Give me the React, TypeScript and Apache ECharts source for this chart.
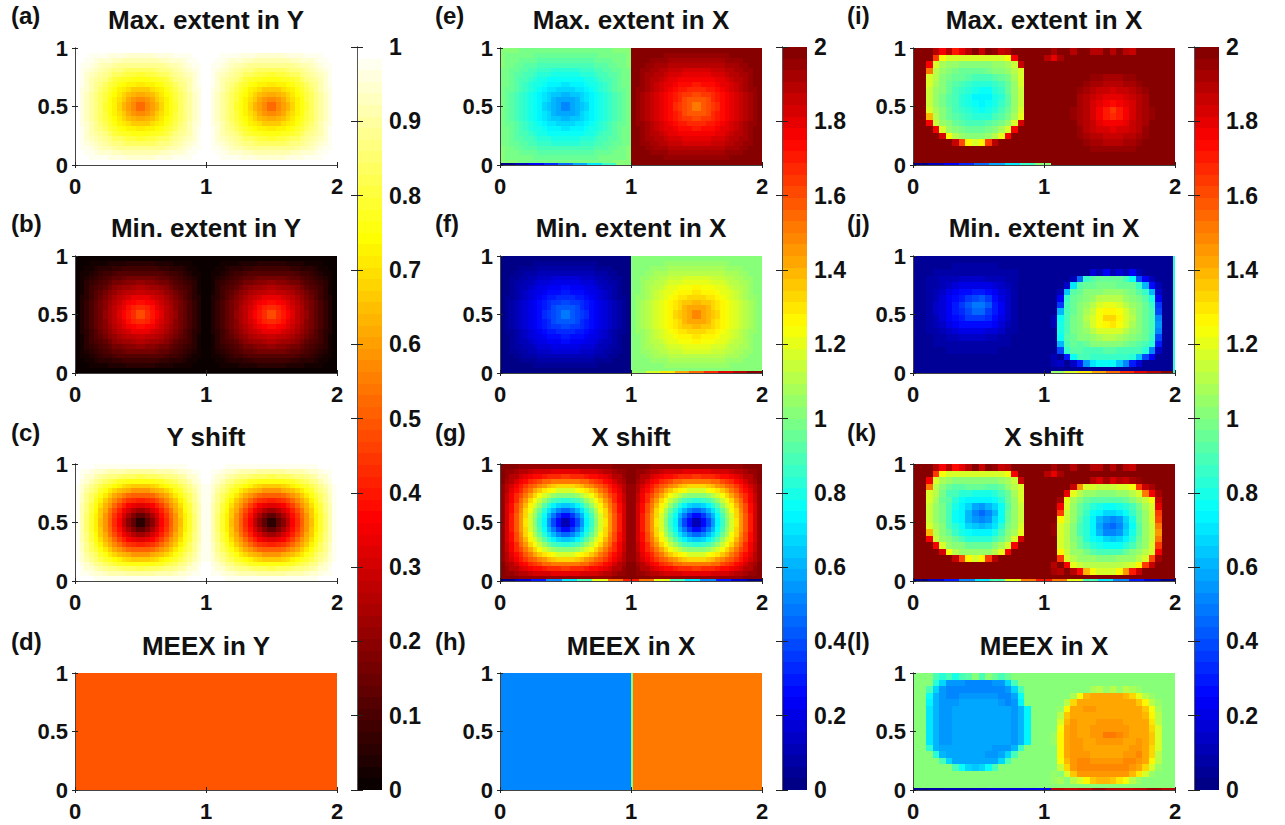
import React, { useEffect, useRef } from "react";
import * as echarts from "echarts";

// All cell values are in hundredths of the colour-bar unit. Rows run top to bottom.
const xTicksLabels = ["0", "1", "2"];
const yTicksLabels = ["0", "0.5", "1"];

// Quadrants of one gyre: edge row first, outer column first. Each is mirrored to make a full 1x1 tile.
const aQuad = [
  [100,100,100,100,99,99,99,99,99,99,99,99,99,99],
  [100,99,99,98,98,97,97,96,96,96,96,95,95,95],
  [100,99,98,97,96,95,95,94,93,93,92,92,92,91],
  [100,98,97,96,95,93,92,91,90,89,89,88,88,88],
  [99,98,96,95,93,91,90,89,87,86,85,84,84,84],
  [99,97,95,93,92,90,88,86,84,83,82,81,80,79],
  [99,97,95,92,90,88,86,83,81,79,78,77,76,75],
  [99,97,94,92,89,86,84,81,79,76,74,73,72,71],
  [99,96,94,91,88,85,82,79,76,73,71,69,67,66],
  [99,96,93,90,87,84,81,77,74,71,68,65,63,62],
  [99,96,93,90,86,83,80,76,73,69,66,62,59,57],
  [99,96,93,90,86,83,79,76,72,68,64,60,57,53],
];
const bQuad = [
  [0,0,0,0,1,1,1,1,1,1,1,1,1,1],
  [0,1,1,2,2,3,3,4,4,4,4,5,5,5],
  [0,1,2,3,4,5,5,6,7,7,8,8,8,9],
  [0,2,3,4,5,7,8,9,10,11,11,12,12,12],
  [1,2,4,5,7,9,10,11,13,14,15,16,16,16],
  [1,3,5,7,8,10,12,14,16,17,18,19,20,21],
  [1,3,5,8,10,12,14,17,19,21,22,23,24,25],
  [1,3,6,8,11,14,16,19,21,24,26,27,28,29],
  [1,4,6,9,12,15,18,21,24,27,29,31,33,34],
  [1,4,7,10,13,16,19,23,26,29,32,35,37,38],
  [1,4,7,10,14,17,20,24,27,31,34,38,41,43],
  [1,4,7,10,14,17,21,24,28,32,36,40,43,47],
];
const cQuad = [
  [100,99,99,99,98,98,98,98,97,97,97,97,97,97],
  [99,98,97,96,95,94,93,92,92,91,91,90,90,90],
  [99,97,95,94,92,90,89,87,86,85,84,83,83,82],
  [99,96,94,91,89,86,84,82,80,78,77,76,75,75],
  [98,95,92,89,85,82,79,77,74,72,70,68,67,67],
  [98,94,90,86,83,79,75,71,68,65,63,61,59,58],
  [98,93,89,84,80,75,71,66,62,58,55,53,51,50],
  [98,93,88,83,77,72,67,62,57,52,48,45,43,41],
  [97,92,87,81,75,69,63,58,52,46,41,37,34,32],
  [97,92,86,80,74,67,61,54,48,41,35,30,26,23],
  [97,91,85,79,72,66,59,52,45,38,31,24,18,14],
  [97,91,85,79,72,65,58,51,43,36,28,20,13,6],
];
const eRightQuad = [
  [200,200,200,200,199,199,199,199,199,199,199,199,199,199],
  [200,199,199,198,198,197,197,196,196,196,196,195,195,195],
  [200,199,198,197,196,195,195,194,193,193,192,192,192,191],
  [200,198,197,196,195,193,192,191,190,189,189,188,188,188],
  [199,198,196,195,193,191,190,189,187,186,185,184,184,184],
  [199,197,195,193,192,190,188,186,184,183,182,181,180,179],
  [199,197,195,192,190,188,186,183,181,179,178,177,176,175],
  [199,197,194,192,189,186,184,181,179,176,174,173,172,171],
  [199,196,194,191,188,185,182,179,176,173,171,169,167,166],
  [199,196,193,190,187,184,181,177,174,171,168,165,163,162],
  [199,196,193,190,186,183,180,176,173,169,166,162,159,157],
  [199,196,193,190,186,183,179,176,172,168,164,160,157,153],
];
const fRightQuad = [
  [100,100,100,100,101,101,101,101,101,101,101,101,101,101],
  [100,101,101,102,102,103,103,104,104,104,104,105,105,105],
  [100,101,102,103,104,105,105,106,107,107,108,108,108,109],
  [100,102,103,104,105,107,108,109,110,111,111,112,112,112],
  [101,102,104,105,107,109,110,111,113,114,115,116,116,116],
  [101,103,105,107,108,110,112,114,116,117,118,119,120,121],
  [101,103,105,108,110,112,114,117,119,121,122,123,124,125],
  [101,103,106,108,111,114,116,119,121,124,126,127,128,129],
  [101,104,106,109,112,115,118,121,124,127,129,131,133,134],
  [101,104,107,110,113,116,119,123,126,129,132,135,137,138],
  [101,104,107,110,114,117,120,124,127,131,134,138,141,143],
  [101,104,107,110,114,117,121,124,128,132,136,140,143,147],
];
const gQuad = [
  [200,198,198,198,196,196,196,196,194,194,194,194,194,194],
  [198,196,194,192,190,188,186,184,184,182,182,180,180,180],
  [198,194,190,188,184,180,178,174,172,170,168,166,166,164],
  [198,192,188,182,178,172,168,164,160,156,154,152,150,150],
  [196,190,184,178,170,164,158,154,148,144,140,136,134,134],
  [196,188,180,172,166,158,150,142,136,130,126,122,118,116],
  [196,186,178,168,160,150,142,132,124,116,110,106,102,100],
  [196,186,176,166,154,144,134,124,114,104,96,90,86,82],
  [194,184,174,162,150,138,126,116,104,92,82,74,68,64],
  [194,184,172,160,148,134,122,108,96,82,70,60,52,46],
  [194,182,170,158,144,132,118,104,90,76,62,48,36,28],
  [194,182,170,158,144,130,116,102,86,72,56,40,26,12],
];
const dValues = [[49, 49]];
const hValues = [[50, 150]];

const R200 = [200,200,200,200,200,200,200,200,200,200,200,200,200,200,200,200,200,200,200,200];
const R100 = [100,100,100,100,100,100,100,100,100,100,100,100,100,100,100,100,100,100,100,100];
const R5 = [5,5,5,5,5,5,5,5,5,5,5,5,5,5,5,5,5,5,5,5];

const iLeft = [
  [200,200,200,190,175,190,170,180,190,200,185,200,195,185,190,200,200,200,200,200],
  [200,200,200,165,122,116,116,118,116,116,116,118,116,118,122,175,200,200,200,200],
  [200,200,175,116,108,104,104,100,100,100,100,100,104,104,108,115,185,200,200,200],
  [200,200,150,112,104,100,98,96,96,96,96,98,100,100,104,112,116,200,200,200],
  [200,200,118,110,102,98,96,94,92,90,90,90,92,94,98,108,116,200,200,200],
  [200,200,116,108,100,96,92,90,86,84,84,84,86,90,96,106,116,200,200,200],
  [200,200,115,106,100,94,90,86,82,79,77,78,82,86,94,104,115,200,200,200],
  [200,200,115,106,98,92,88,84,79,74,72,74,79,84,92,104,115,200,200,200],
  [200,200,115,106,98,92,88,84,80,76,74,76,80,86,92,104,114,200,200,200],
  [200,200,116,108,100,94,90,86,82,80,78,80,82,88,94,106,116,200,200,200],
  [200,200,140,110,102,96,92,88,86,84,84,84,88,92,98,108,120,200,200,200],
  [200,200,178,114,104,100,96,92,90,90,90,92,94,98,104,116,182,200,200,200],
  [200,200,200,175,116,106,102,98,96,96,96,98,102,108,118,178,200,200,200,200],
  [200,200,200,200,182,122,112,106,102,100,102,106,112,120,178,200,200,200,200,200],
  [200,200,200,200,200,200,185,160,125,118,128,165,188,200,200,200,200,200,200,200],
  R200, R200, R200,
];
const iRight = [
  [200,192,200,200,188,200,200,190,188,200,188,200,190,185,200,200,200,200,200,200],
  [188,180,192,200,200,200,200,200,200,200,200,200,200,200,200,200,200,200,200,200],
  R200,
  [200,200,200,200,200,200,200,198,197,197,197,197,197,198,200,200,200,200,200,200],
  [200,200,200,200,200,200,198,196,194,193,193,193,194,196,198,200,200,200,200,200],
  [200,200,200,200,200,198,194,192,191,189,189,189,191,192,194,198,200,200,200,200],
  [200,200,200,200,198,195,192,189,187,185,184,185,187,189,192,195,198,200,200,200],
  [200,200,200,200,197,193,190,186,183,180,179,180,183,186,190,193,197,200,200,200],
  [200,200,200,199,197,193,189,184,180,175,172,175,180,184,189,193,197,199,200,200],
  [200,200,200,199,196,192,188,183,178,170,165,170,178,183,188,192,196,199,200,200],
  [200,200,200,199,196,192,188,183,178,171,167,171,178,183,188,192,196,199,200,200],
  [200,200,200,199,197,193,189,185,180,176,175,176,180,185,189,193,197,199,200,200],
  [200,200,200,200,197,194,190,187,184,182,181,182,184,187,190,194,197,200,200,200],
  [200,200,200,200,198,195,192,190,188,187,186,187,188,190,192,195,198,200,200,200],
  [200,200,200,200,200,197,195,193,191,190,190,190,191,193,195,197,200,200,200,200],
  [200,200,200,200,200,199,197,196,195,194,194,194,195,196,197,199,200,200,200,200],
  [200,200,200,200,200,200,200,199,198,198,198,198,198,199,200,200,200,200,200,200],
  R200,
];
const jLeft = [
  R5,
  [5,5,5,6,6,6,7,7,7,7,7,7,7,6,6,6,5,5,5,5],
  [5,5,6,7,8,8,9,9,9,9,9,9,9,8,8,7,6,5,5,5],
  [5,6,7,8,10,11,12,13,13,13,13,12,11,10,9,7,6,5,5,5],
  [5,6,7,9,12,15,17,19,20,20,20,19,17,14,10,8,6,5,5,5],
  [5,6,8,11,15,19,23,26,28,29,29,27,23,18,13,9,6,5,5,5],
  [5,6,9,12,17,22,27,31,36,40,41,36,28,21,14,9,6,5,5,5],
  [5,6,9,13,18,24,29,35,42,47,48,42,31,23,15,9,6,5,5,5],
  [5,6,9,13,18,23,29,34,40,44,46,36,30,22,15,9,6,5,5,5],
  [5,6,9,12,17,22,27,31,35,37,37,33,27,20,14,9,6,5,5,5],
  [5,6,8,10,15,19,23,26,28,28,28,26,22,17,12,8,6,5,5,5],
  [5,6,7,9,12,15,17,19,20,20,20,18,16,13,9,7,6,5,5,5],
  [5,5,6,8,9,11,12,13,13,13,13,12,11,9,8,6,5,5,5,5],
  [5,5,6,7,7,8,9,9,9,9,9,9,8,7,7,6,5,5,5,5],
  [5,5,5,6,6,7,7,7,7,7,7,7,7,6,6,5,5,5,5,5],
  R5, R5, R5,
];
const jRight = [
  R5, R5,
  [5,5,5,5,5,5,5,18,10,22,10,18,12,22,10,5,5,5,5,5],
  [5,5,5,5,10,45,85,92,94,94,94,94,90,78,40,22,12,5,5,5],
  [5,5,5,14,70,92,96,96,98,98,98,96,96,94,85,60,28,10,5,5],
  [5,5,10,65,92,96,100,102,102,104,104,104,102,98,92,85,60,14,5,5],
  [5,5,22,85,94,98,102,106,110,112,112,110,106,102,98,92,80,22,5,5],
  [5,5,35,88,96,100,106,112,116,120,120,118,112,106,100,94,85,35,5,5],
  [5,5,60,90,96,102,108,114,122,128,128,124,116,108,102,96,88,40,5,5],
  [5,10,75,90,98,102,110,116,124,132,134,128,118,110,102,96,88,50,5,5],
  [5,10,80,90,98,102,108,116,122,128,130,124,116,108,102,96,88,55,5,5],
  [5,5,80,90,98,100,106,112,116,118,118,116,112,106,100,96,88,50,5,5],
  [5,5,78,92,96,100,102,106,108,110,110,108,106,102,98,94,86,40,5,5],
  [5,5,60,90,96,92,96,100,102,102,102,100,98,94,92,90,84,30,5,5],
  [5,5,40,85,92,92,90,90,90,92,92,90,90,90,90,82,50,14,5,5],
  [5,10,5,30,78,88,88,86,86,86,86,86,86,82,65,40,22,5,5,5],
  [5,10,14,5,14,30,55,70,78,78,78,65,50,30,18,5,5,5,5,5],
  R5,
];
const kLeft = [
  [200,200,200,190,178,190,172,180,190,200,185,200,195,185,190,200,200,200,200,200],
  [200,200,200,165,122,116,116,116,116,116,116,116,116,118,122,178,200,200,200,200],
  [200,200,175,116,108,104,102,100,100,100,100,100,102,104,108,115,185,200,200,200],
  [200,200,150,112,102,96,92,92,94,94,94,92,92,96,104,112,116,200,200,200],
  [200,200,118,110,98,90,88,84,82,80,80,80,84,88,94,108,116,200,200,200],
  [200,200,116,108,96,92,84,78,74,72,72,72,76,84,96,106,116,200,200,200],
  [200,200,115,106,98,90,80,74,66,58,56,60,68,78,92,104,115,200,200,200],
  [200,200,115,106,98,88,78,72,60,50,46,50,62,76,94,104,115,200,200,200],
  [200,200,115,106,98,88,78,72,62,54,50,54,66,78,94,104,114,200,200,200],
  [200,200,116,108,100,90,82,76,68,64,62,64,70,82,98,106,116,200,200,200],
  [200,200,140,110,102,96,86,80,76,74,74,74,80,90,100,108,120,200,200,200],
  [200,200,178,114,104,100,94,88,84,82,82,84,90,96,104,116,182,200,200,200],
  [200,200,200,175,116,106,102,100,96,94,94,96,102,108,118,178,200,200,200,200],
  [200,200,200,200,182,122,112,106,104,104,104,106,112,120,178,200,200,200,200,200],
  [200,200,200,200,200,200,185,160,125,118,128,165,188,200,200,200,200,200,200,200],
  R200, R200, R200,
];
const kRight = [
  [200,192,200,200,188,200,200,190,188,200,188,200,190,185,200,200,200,200,200,200],
  [188,180,192,200,200,200,200,200,200,200,200,200,200,200,200,200,200,200,200,200],
  [200,200,200,200,200,200,200,190,182,192,182,190,185,192,195,200,200,200,200,200],
  [200,200,200,200,185,145,118,116,114,114,114,116,118,122,165,185,192,200,200,200],
  [200,200,200,180,120,110,106,104,102,102,102,104,106,110,116,150,175,192,200,200],
  [200,200,192,120,108,100,94,92,92,92,92,92,94,100,108,114,122,185,200,200],
  [200,200,178,116,106,96,90,84,80,78,78,80,84,90,98,108,116,180,200,200],
  [200,200,165,114,104,94,86,76,72,68,68,70,76,86,96,106,116,165,200,200],
  [200,200,125,114,104,92,84,74,62,54,52,56,68,80,94,104,116,160,200,200],
  [200,195,118,112,102,90,82,72,58,48,46,50,64,78,92,104,115,150,200,200],
  [200,195,116,112,102,90,82,74,62,52,50,56,68,80,92,104,115,145,200,200],
  [200,200,116,112,102,94,84,78,72,66,64,68,74,82,94,104,115,150,200,200],
  [200,200,118,112,106,96,90,84,80,76,76,78,84,90,98,106,116,165,200,200],
  [200,200,125,114,106,104,98,92,90,88,88,90,94,100,104,110,118,178,200,200],
  [200,200,165,118,112,106,106,104,102,102,102,104,104,106,110,116,160,192,200,200],
  [200,190,200,178,120,114,112,112,112,112,112,112,114,116,125,165,185,200,200,200],
  [200,192,188,200,188,172,140,122,118,118,118,125,145,170,185,200,200,200,200,200],
  R200,
];
const lMid = [100,100,70,60,56,56,57,57,58,58,58,58,58,57,57,56,60,72,100,100];
const lLeft = [
  [100,100,100,90,84,90,80,88,92,100,88,100,94,90,94,100,100,100,100,100],
  [100,100,100,84,66,56,54,54,52,52,52,52,54,56,66,90,100,100,100,100],
  [100,100,90,66,54,52,52,52,52,52,52,52,52,52,54,66,90,100,100,100],
  [100,100,78,60,54,52,52,54,55,55,55,55,54,52,52,58,76,100,100,100],
  [100,100,72,60,54,54,56,57,57,57,57,57,57,55,53,56,72,100,100,100],
  lMid, lMid, lMid, lMid, lMid, lMid,
  [100,100,84,62,57,57,57,57,57,57,57,57,55,55,55,60,86,100,100,100],
  [100,100,100,84,62,57,57,57,57,57,57,55,55,57,66,88,100,100,100,100],
  [100,100,100,100,88,68,58,57,57,57,57,57,58,66,90,100,100,100,100,100],
  [100,100,100,100,100,100,90,78,66,64,66,78,90,100,100,100,100,100,100,100],
  R100, R100, R100,
];
const lRight = [
  R100, R100,
  [100,100,100,100,100,100,100,108,112,104,110,106,112,108,104,100,100,100,100,100],
  [100,100,100,100,108,122,138,142,142,142,142,142,140,132,120,112,106,100,100,100],
  [100,100,100,112,132,142,142,142,142,142,142,142,142,142,136,125,112,104,100,100],
  [100,100,106,128,142,142,144,144,142,142,142,142,142,142,142,136,122,108,100,100],
  [100,100,110,136,142,142,142,142,142,142,142,142,142,142,142,140,125,110,100,100],
  [100,100,116,140,144,142,142,142,144,146,146,144,142,142,142,142,130,112,100,100],
  [100,100,122,142,144,142,142,144,146,146,146,146,144,142,142,142,134,116,100,100],
  [100,104,128,142,146,142,142,144,146,150,152,148,144,142,142,142,136,118,100,100],
  [100,104,128,142,146,144,142,142,146,146,146,146,142,142,144,142,136,118,100,100],
  [100,100,128,142,146,146,142,142,142,142,142,142,142,144,146,142,134,116,100,100],
  [100,100,126,142,146,146,144,142,142,142,142,142,144,146,148,142,132,112,100,100],
  [100,100,122,140,146,148,148,146,146,146,146,146,148,148,146,142,128,110,100,100],
  [100,100,114,134,146,148,148,148,148,148,148,148,148,146,142,134,116,104,100,100],
  [100,104,100,116,136,144,146,146,146,146,146,146,144,140,130,116,104,100,100,100],
  [100,104,108,100,110,118,128,136,138,138,136,130,122,112,106,100,100,100,100,100],
  R100,
];

// Thin strips along panel edges
const rampUp = [[2,10,22,34,46,58,70,85,100]];
const rampUp2 = [[105,118,130,142,155,168,180,190,198]];
const gBottom = [[2,14,30,50,70,90,120,150,170,150,120,90,70,50,30,14,2]];
const lBottomL = [[4,8,10,12,14,16,18,20,22]];
const lBottomR = [[190,185,190,195,190,185,190,195,190]];
const jEdge = [[82]];
const midLine = [[100]];

const titles = [
  ["(a)", "Max. extent in Y"], ["(b)", "Min. extent in Y"], ["(c)", "Y shift"], ["(d)", "MEEX in Y"],
  ["(e)", "Max. extent in X"], ["(f)", "Min. extent in X"], ["(g)", "X shift"], ["(h)", "MEEX in X"],
  ["(i)", "Max. extent in X"], ["(j)", "Min. extent in X"], ["(k)", "X shift"], ["(l)", "MEEX in X"],
];

const FONT = "Liberation Sans";
const LEFTS = [75, 500, 913];
const LABEL_X = [11, 435, 847];
const TOPS = [48, 256, 464, 673];
const TITLE_Y = [20, 228, 437, 646];
const LABEL_Y = [15, 223, 432, 641];
const BAR_LEFTS = [357, 782, 1194];
const BAR_MAX = [1, 2, 2];
const BAR_STEP = [0.1, 0.2, 0.2];

const clip = (v: number) => Math.max(0, Math.min(1, v));
const hex = (r: number, g: number, b: number) =>
  `rgb(${Math.round(r * 255)},${Math.round(g * 255)},${Math.round(b * 255)})`;
const hotColor = (i: number) =>
  hex(clip((i + 1) / 24), clip((i + 1 - 24) / 24), clip((i + 1 - 48) / 16));
const jetColor = (i: number) => {
  const t = (i + 0.5) / 64;
  return hex(clip(1.5 - Math.abs(4 * t - 3)), clip(1.5 - Math.abs(4 * t - 2)), clip(1.5 - Math.abs(4 * t - 1)));
};

const mirror = (q: number[][]) => {
  const rows = q.map((r) => [...r, ...[...r].reverse()]);
  return [...rows, ...[...rows].reverse()];
};

type Cell = number[];
const cells = (rows: number[][], x0: number, x1: number, y0 = 0, y1 = 1): Cell[] => {
  const out: Cell[] = [];
  const nr = rows.length;
  rows.forEach((row, r) => {
    const nc = row.length;
    row.forEach((v, c) => {
      out.push([
        x0 + ((x1 - x0) * c) / nc,
        x0 + ((x1 - x0) * (c + 1)) / nc,
        y1 - ((y1 - y0) * (r + 1)) / nr,
        y1 - ((y1 - y0) * r) / nr,
        v / 100,
      ]);
    });
  });
  return out;
};
const STRIP = 0.014;
const panels: Cell[][] = [
  [...cells(mirror(aQuad), 0, 1), ...cells(mirror(aQuad), 1, 2)],
  [...cells(mirror(bQuad), 0, 1), ...cells(mirror(bQuad), 1, 2)],
  [...cells(mirror(cQuad), 0, 1), ...cells(mirror(cQuad), 1, 2)],
  cells(dValues, 0, 2),
  [...cells(mirror(aQuad), 0, 1), ...cells(mirror(eRightQuad), 1, 2), ...cells(rampUp, 0, 1, 0, STRIP)],
  [...cells(mirror(bQuad), 0, 1), ...cells(mirror(fRightQuad), 1, 2), ...cells(rampUp2, 1, 2, 0, STRIP), ...cells(midLine, 1, 1.012)],
  [...cells(mirror(gQuad), 0, 1), ...cells(mirror(gQuad), 1, 2), ...cells(gBottom, 0, 2, 0, STRIP)],
  [...cells(hValues, 0, 2), ...cells(midLine, 1, 1.012)],
  [...cells(iLeft, 0, 1), ...cells(iRight, 1, 2), ...cells(rampUp, 0, 1.05, 0, STRIP)],
  [...cells(jLeft, 0, 1), ...cells(jRight, 1, 2), ...cells(rampUp2, 1.05, 2, 0, STRIP), ...cells(jEdge, 1.988, 2)],
  [...cells(kLeft, 0, 1), ...cells(kRight, 1, 2), ...cells(gBottom, 0, 2, 0, STRIP)],
  [...cells(lLeft, 0, 1), ...cells(lRight, 1, 2), ...cells(lBottomL, 0, 1.05, 0, STRIP), ...cells(lBottomR, 1.05, 2, 0, STRIP)],
];

const rectSeries = (data: Cell[], xi: number, yi: number, colorAt: (i: number) => string, max: number) => ({
  type: "custom",
  xAxisIndex: xi,
  yAxisIndex: yi,
  silent: true,
  clip: false,
  encode: { x: [0, 1], y: [2, 3] },
  data,
  renderItem: (_p: any, api: any) => {
    const a = api.coord([api.value(0), api.value(3)]);
    const b = api.coord([api.value(1), api.value(2)]);
    const x = Math.round(a[0]);
    const y = Math.round(a[1]);
    const level = Math.max(0, Math.min(63, Math.floor((api.value(4) / max) * 64)));
    return {
      type: "rect",
      shape: { x, y, width: Math.max(1, Math.round(b[0]) - x), height: Math.max(1, Math.round(b[1]) - y) },
      style: { fill: colorAt(level) },
    };
  },
});

const labelStyle = { fontFamily: FONT, fontWeight: "bold" as const, color: "#111" };
const LINE = { lineStyle: { color: "#444", width: 1 } };
const TICK = { inside: true, length: 3, lineStyle: { color: "#222", width: 1 } };

function buildOption() {
  const grid: any[] = [];
  const xAxis: any[] = [];
  const yAxis: any[] = [];
  const series: any[] = [];
  const title: any[] = [];
  titles.forEach(([letter, name], n) => {
    const col = Math.floor(n / 4);
    const row = n % 4;
    const left = LEFTS[col];
    const top = TOPS[row];
    grid.push({ left, top, width: 262, height: 117 });
    const xi = xAxis.length;
    const yi = yAxis.length;
    const g = grid.length - 1;
    const baseX = { gridIndex: g, type: "value", min: 0, max: 2, interval: 1, z: 5, splitLine: { show: false }, axisLine: { show: true, ...LINE }, axisTick: TICK };
    const baseY = { gridIndex: g, type: "value", min: 0, max: 1, interval: 0.5, z: 5, splitLine: { show: false }, axisLine: { show: true, ...LINE }, axisTick: TICK };
    xAxis.push({
      ...baseX,
      position: "bottom",
      axisLabel: { ...labelStyle, fontSize: 22, margin: 10, formatter: (v: number) => xTicksLabels[v] },
    });
    xAxis.push({ ...baseX, position: "top", axisLabel: { show: false } });
    yAxis.push({
      ...baseY,
      position: "left",
      axisLabel: { ...labelStyle, fontSize: 22, margin: 7, formatter: (v: number) => yTicksLabels[v * 2] },
    });
    yAxis.push({ ...baseY, position: "right", axisLabel: { show: false } });
    series.push(rectSeries(panels[n], xi, yi, col === 0 ? hotColor : jetColor, col === 0 ? 1 : 2));
    title.push({
      text: name, left: left + 131, top: TITLE_Y[row], textAlign: "center", textVerticalAlign: "middle", padding: 0,
      textStyle: { ...labelStyle, fontSize: 26 },
    });
    title.push({
      text: letter, left: LABEL_X[col], top: LABEL_Y[row], textAlign: "left", textVerticalAlign: "middle", padding: 0,
      textStyle: { ...labelStyle, fontSize: 24 },
    });
  });
  BAR_LEFTS.forEach((left, b) => {
    const max = BAR_MAX[b];
    grid.push({ left, top: 47, width: 25, height: 743 });
    const g = grid.length - 1;
    const xi = xAxis.length;
    const yi = yAxis.length;
    xAxis.push({ gridIndex: g, type: "value", min: 0, max: 1, show: false, splitLine: { show: false } });
    const baseY = {
      gridIndex: g, type: "value", min: 0, max, interval: BAR_STEP[b], z: 5, splitLine: { show: false },
      axisLine: { show: true, lineStyle: { color: "#555", width: 1 } },
      axisTick: { inside: true, length: 6, lineStyle: { color: "#222", width: 1 } },
    };
    yAxis.push({
      ...baseY,
      position: "right",
      axisLabel: { ...labelStyle, fontSize: 23, margin: 7, formatter: (v: number) => String(Math.round(v * 10) / 10) },
    });
    yAxis.push({ ...baseY, position: "left", axisLabel: { show: false } });
    const stripes: Cell[] = [];
    for (let i = 0; i < 64; i++) stripes.push([0, 1, (i / 64) * max, ((i + 1) / 64) * max, ((i + 0.5) / 64) * max]);
    series.push(rectSeries(stripes, xi, yi, b === 0 ? hotColor : jetColor, max));
  });
  return { animation: false, backgroundColor: "#fff", grid, xAxis, yAxis, series, title };
}

export default function App() {
  const ref = useRef<HTMLDivElement>(null);
  useEffect(() => {
    const chart = echarts.init(ref.current!, undefined, { renderer: "svg" });
    chart.setOption(buildOption() as any);
    return () => chart.dispose();
  }, []);
  return <div ref={ref} style={{ position: "absolute", left: 0, top: 0, width: 1285, height: 825 }} />;
}
